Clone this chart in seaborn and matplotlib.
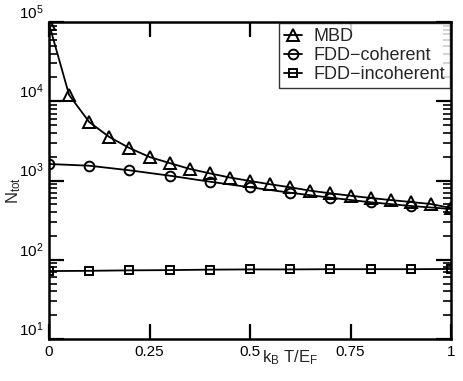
import matplotlib
matplotlib.use("Agg")
import matplotlib.pyplot as plt
import seaborn as sns
from matplotlib.ticker import LogLocator, NullFormatter, FixedLocator

# values
t_mbd = [0.0, 0.05, 0.1, 0.15, 0.2, 0.25, 0.3, 0.35, 0.4, 0.45, 0.5,
         0.55, 0.6, 0.65, 0.7, 0.75, 0.8, 0.85, 0.9, 0.95, 1.0]
n_mbd = [95000, 12000, 5470, 3540, 2570, 1980, 1660, 1400, 1230, 1090, 986,
         896, 821, 743, 689, 643, 601, 567, 535, 505, 450]
t_fdd = [0.0, 0.1, 0.2, 0.3, 0.4, 0.5, 0.6, 0.7, 0.8, 0.9, 1.0]
n_coh = [1615, 1537, 1345, 1151, 966, 821, 701, 607, 531, 477, 437]
n_incoh = [72, 72.5, 73.5, 74, 75, 75.5, 75.5, 76, 76, 76, 76.5]

x_ticks = [0, 0.25, 0.5, 0.75, 1]
x_tick_labels = ["0", "0.25", "0.5", "0.75", "1"]

sns.set_theme(style="ticks")
plt.rcParams["font.family"] = ["Liberation Sans", "DejaVu Sans"]
plt.rcParams["mathtext.fontset"] = "custom"
plt.rcParams["mathtext.rm"] = "Liberation Sans"
plt.rcParams["mathtext.it"] = "Liberation Sans"

fig = plt.figure(figsize=(4.63, 3.81), dpi=100)
ax = fig.add_axes([49 / 463, 1 - 339 / 381, 402 / 463, 317 / 381])

line_kw = dict(color="black", linewidth=1.3, markerfacecolor="none",
               markeredgecolor="black", markeredgewidth=1.4)
sns.lineplot(x=t_mbd, y=n_mbd, marker="^", markersize=8.5, label="MBD",
             ax=ax, **line_kw)
sns.lineplot(x=t_fdd, y=n_coh, marker="o", markersize=7, label="FDD\u2212coherent",
             ax=ax, **line_kw)
sns.lineplot(x=t_fdd, y=n_incoh, marker="s", markersize=6, label="FDD\u2212incoherent",
             ax=ax, **line_kw)

ax.set_yscale("log")
ax.set_xlim(0, 1)
ax.set_ylim(10, 1e5)
ax.xaxis.set_major_locator(FixedLocator(x_ticks))
ax.set_xticklabels(x_tick_labels)
ax.yaxis.set_major_locator(LogLocator(base=10, numticks=10))
ax.yaxis.set_minor_locator(LogLocator(base=10, subs=range(2, 10), numticks=20))
ax.yaxis.set_minor_formatter(NullFormatter())

for s in ax.spines.values():
    s.set_linewidth(1.8)
    s.set_color("black")
ax.tick_params(which="major", direction="in", length=11, width=1.6,
               top=True, right=True, labelsize=11, colors="black", pad=4)
ax.tick_params(which="minor", direction="in", length=5.5, width=1.4,
               top=False, right=True)
for lab in ax.get_yticklabels():
    lab.set_verticalalignment("bottom")

ax.set_xlabel(r"k$_\mathregular{B}$ T/E$_\mathregular{F}$", fontsize=12)
ax.xaxis.set_label_coords(0.6, -0.03)
ax.set_ylabel(r"N$_\mathregular{tot}$", fontsize=12)
ax.yaxis.set_label_coords(-0.065, 0.47)

leg = ax.legend(loc="upper right", fontsize=13, frameon=True, fancybox=False,
                handlelength=1.0, handletextpad=0.6, borderaxespad=0.05,
                labelspacing=0.1, borderpad=0.3, numpoints=1)
leg.get_frame().set_edgecolor("black")
leg.get_frame().set_linewidth(1.0)

fig.savefig("out.png", dpi=100)
plt.close(fig)
